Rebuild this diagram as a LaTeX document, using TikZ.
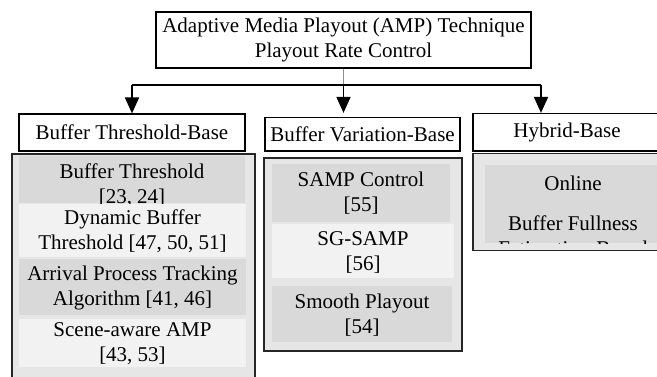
\documentclass[tikz,border=0pt]{standalone}
\usepackage{fontspec}
\setmainfont{Liberation Serif}
\usetikzlibrary{arrows.meta}

\definecolor{cellDark}{RGB}{217,217,217}
\definecolor{cellLight}{RGB}{242,242,242}
\definecolor{panelFill}{RGB}{230,230,230}
\definecolor{linkBlue}{RGB}{91,155,213}

\tikzset{
  txt/.style={font=\fontsize{21}{25}\selectfont, align=center, inner sep=0pt},
  headbox/.style={draw=black, line width=1.1pt, fill=white, inner sep=0pt,
                  font=\fontsize{21}{25}\selectfont, align=center},
  panel/.style={draw=black!85, line width=1.1pt, fill=panelFill, inner sep=0pt},
  darkcell/.style={fill=cellDark, inner sep=0pt},
  lightcell/.style={fill=cellLight, inner sep=0pt},
  branch/.style={line width=1.8pt, -{Triangle[length=16pt,width=14pt]}},
}

\begin{document}
\begin{tikzpicture}[x=1pt,y=-1pt]
\clip (0,0) rectangle (657,376);
\useasboundingbox (0,0) rectangle (657,376);

% root
\node[headbox, minimum width=375pt, minimum height=56pt] (root) at (343.5,40)
  {Adaptive Media Playout (AMP) Technique\\Playout Rate Control};

% category headings
\node[headbox, minimum width=226pt, minimum height=37pt] (h1) at (132,132.5) {Buffer Threshold-Base};
\node[headbox, minimum width=195pt, minimum height=33.5pt] (h2) at (362.5,134.2) {Buffer Variation-Base};
\node[headbox, minimum width=188pt, minimum height=37.5pt] (h3) at (567,132.2) {Hybrid-Base};

% connectors
\coordinate (split) at (343.5,85);
\coordinate (splitL) at (132,85);
\coordinate (splitR) at (541,85);
\draw[linkBlue, line width=0.8pt] (root.south) -- (split);
\draw[line width=1.2pt] (splitL) -- (splitR);
\draw[branch] (splitL) -- (h1.north);
\draw[branch, shorten >=4pt] (split) -- (split |- h2.north);
\draw[branch] (splitR) -- (splitR |- h3.north);

% left panel
\node[panel, minimum width=243pt, minimum height=228pt] (p1) at (133.5,268) {};
\node[darkcell, minimum width=226pt, minimum height=47pt] (a1) at (132,179.5) {};
\node[txt] (a1t) at (132,185) {Buffer Threshold\\{[23, 24]}};
\node[lightcell, minimum width=227pt, minimum height=53pt] (a2) at (132.5,230.5) {};
\node[txt] (a2t) at (132.5,231) {Dynamic Buffer\\Threshold [47, 50, 51]};
\node[darkcell, minimum width=227pt, minimum height=56pt] (a3) at (132.5,287) {};
\node[txt] (a3t) at (132.5,287.5) {Arrival Process Tracking\\Algorithm [41, 46]};
\node[lightcell, minimum width=227pt, minimum height=48pt] (a4) at (132.5,343) {};
\node[txt] (a4t) at (132.5,344) {Scene-aware AMP\\{[43, 53]}};

% middle panel
\node[panel, minimum width=198pt, minimum height=193pt] (p2) at (363,254.5) {};
\node[darkcell, minimum width=178pt, minimum height=58pt] (b1) at (361,193) {};
\node[txt] (b1t) at (361,193.5) {SAMP Control\\{[55]}};
\node[lightcell, minimum width=182pt, minimum height=54pt] (b2) at (363,251) {};
\node[txt] (b2t) at (363,252.5) {SG-SAMP\\{[56]}};
\node[darkcell, minimum width=180pt, minimum height=56pt] (b3) at (362,314) {};
\node[txt] (b3t) at (362,315) {Smooth Playout\\{[54]}};

% right panel
\node[panel, minimum width=188pt, minimum height=96.5pt] (p3) at (567,201.8) {};
\node[darkcell, minimum width=176pt, minimum height=78pt] (c1) at (573,204) {};
\begin{scope}
  \clip (c1.south west) rectangle (c1.north east);
  \node[txt] (c1t) at (573,216) {Online\\[15pt]Buffer Fullness\\Estimation-Based};
\end{scope}
\end{tikzpicture}
\end{document}
